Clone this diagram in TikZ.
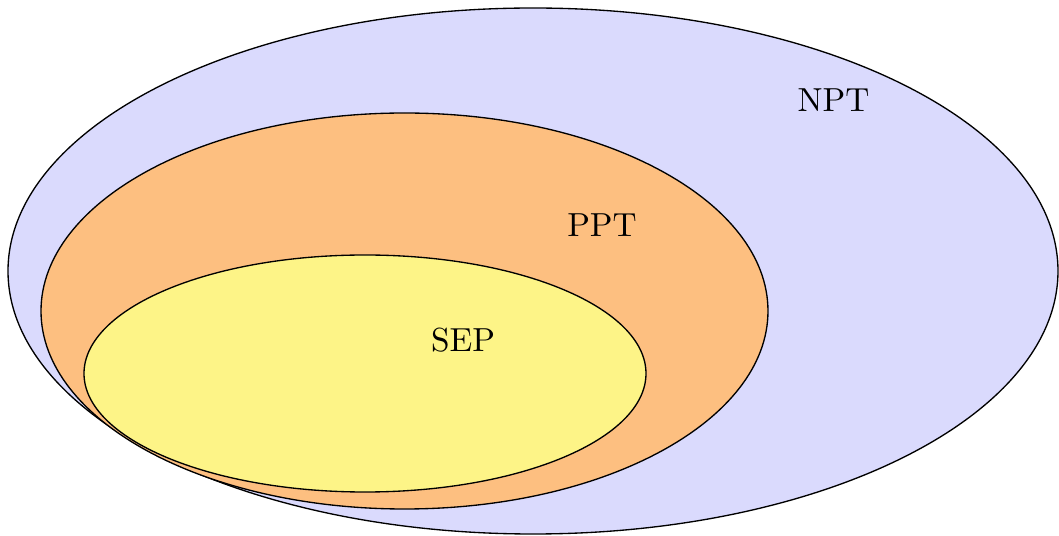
\documentclass[tikz,border=0pt]{standalone}
\definecolor{nptcol}{RGB}{218,218,253}
\definecolor{pptcol}{RGB}{253,191,128}
\definecolor{sepcol}{RGB}{253,244,135}
\begin{document}
\begin{tikzpicture}[x=0.3pt,y=-0.3pt,
  setshape/.style={draw=black,line width=0.4pt},
  setlabel/.style={inner sep=0pt,font=\normalsize}]
\useasboundingbox (0,0) rectangle (1059,536);
\fill[nptcol] (533,271) ellipse [x radius=157.5pt, y radius=78.9pt];
\draw[setshape] (533,271) ellipse [x radius=157.5pt, y radius=78.9pt];
\fill[pptcol] (404.5,311) ellipse [x radius=109.05pt, y radius=59.4pt];
\draw[setshape] (404.5,311) ellipse [x radius=109.05pt, y radius=59.4pt];
\fill[sepcol] (365,373.5) ellipse [x radius=84.3pt, y radius=35.55pt];
\draw[setshape] (365,373.5) ellipse [x radius=84.3pt, y radius=35.55pt];
\node[setlabel] (npt) at (833.5,100.5) {NPT};
\node[setlabel] (ppt) at (602,225.5) {PPT};
\node[setlabel] (sep) at (463,340.5) {SEP};
\end{tikzpicture}
\end{document}
